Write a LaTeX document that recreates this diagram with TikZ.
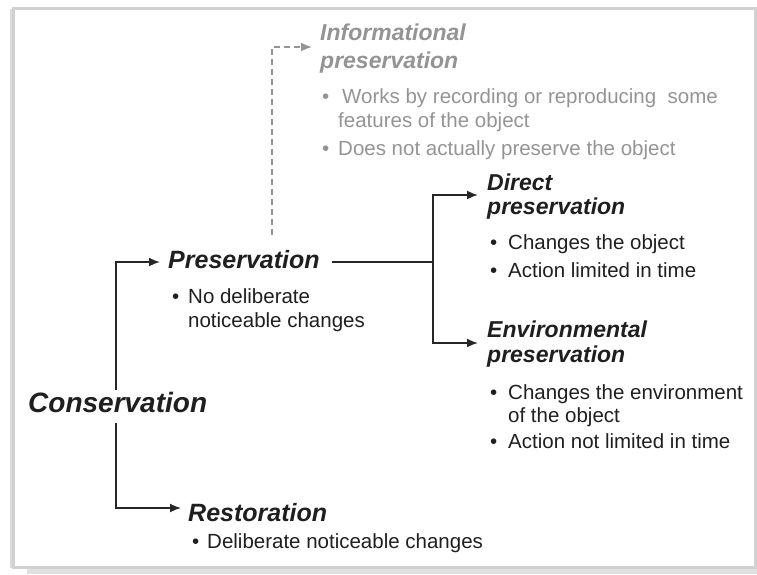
\documentclass[tikz,border=0pt]{standalone}
\usepackage{fontspec}
\setmainfont{Liberation Sans}
\usetikzlibrary{arrows.meta}
\begin{document}
\begin{tikzpicture}[x=1pt,y=-1pt,
  txt/.style={anchor=base west,inner sep=0pt,font=\fontsize{20.5}{24}\selectfont,text=black!88},
  gtxt/.style={txt,text=black!42},
  ttl/.style={anchor=base west,inner sep=0pt,font=\fontsize{23}{26}\selectfont\bfseries\itshape,text=black!88},
  gttl/.style={ttl,text=black!42},
  bigttl/.style={ttl,font=\fontsize{25}{28}\selectfont\bfseries\itshape},
  hugettl/.style={ttl,font=\fontsize{28}{32}\selectfont\bfseries\itshape},
  conn/.style={line width=1.7pt,draw=black!85},
  arr/.style={conn,-{Latex[length=11pt,width=9pt]}},
  garr/.style={arr,draw=black!42,dash pattern=on 6pt off 4pt},
]
\useasboundingbox (0,0) rectangle (757,574);
% frame
\fill[black!12] (27,568) rectangle (757,574);
\draw[black!18,line width=3pt] (13,8) rectangle (755,567);
\draw[black!14,line width=2pt] (11,9) -- (11,568);

% Informational preservation (gray)
\node[gttl] (inf1) at (320,40) {Informational};
\node[gttl] (inf2) at (320,68) {preservation};
\node[gtxt] (infb1) at (322,103) {•};
\node[gtxt] (inft1) at (342,103) {Works by recording or reproducing\ \ some};
\node[gtxt] (inft2) at (338,127) {features of the object};
\node[gtxt] (infb2) at (322,155) {•};
\node[gtxt] (inft3) at (338,155) {Does not actually preserve the object};

% Preservation
\node[bigttl] (pres) at (168,268) {Preservation};
\node[txt] (presb) at (172,303) {•};
\node[txt] (prest1) at (188,303) {No deliberate};
\node[txt] (prest2) at (188,327) {noticeable changes};

% Conservation
\node[hugettl] (cons) at (28,412) {Conservation};

% Restoration
\node[bigttl] (rest) at (188,521) {Restoration};
\node[txt] (restb) at (192,548) {•};
\node[txt] (restt) at (207,548) {Deliberate noticeable changes};

% Direct preservation
\node[ttl] (dir1) at (487,190) {Direct};
\node[ttl] (dir2) at (487,214) {preservation};
\node[txt] (dirb1) at (490,249) {•};
\node[txt] (dirt1) at (508,249) {Changes the object};
\node[txt] (dirb2) at (490,277) {•};
\node[txt] (dirt2) at (508,277) {Action limited in time};

% Environmental preservation
\node[ttl] (env1) at (487,337) {Environmental};
\node[ttl] (env2) at (487,362) {preservation};
\node[txt] (envb1) at (490,399) {•};
\node[txt] (envt1) at (508,399) {Changes the environment};
\node[txt] (envt2) at (508,422) {of the object};
\node[txt] (envb2) at (490,448) {•};
\node[txt] (envt3) at (508,448) {Action not limited in time};

% connector points
\coordinate (consTop) at (116,390);
\coordinate (consBot) at (116,423);
\coordinate (presIn) at (160,262);
\coordinate (restIn) at (181,508);
\coordinate (presOut) at (332,262);
\coordinate (split) at (433,262);
\coordinate (dirIn) at (478,195);
\coordinate (envIn) at (478,343);
\coordinate (infFrom) at (272,235);
\coordinate (infIn) at (312,47);

\draw[arr] (consTop) |- (presIn);
\draw[arr] (consBot) |- (restIn);
\draw[conn] (presOut) -- (split);
\draw[arr] (split) |- (dirIn);
\draw[arr] (split) |- (envIn);
\draw[garr] (infFrom) |- (infIn);
\end{tikzpicture}
\end{document}
